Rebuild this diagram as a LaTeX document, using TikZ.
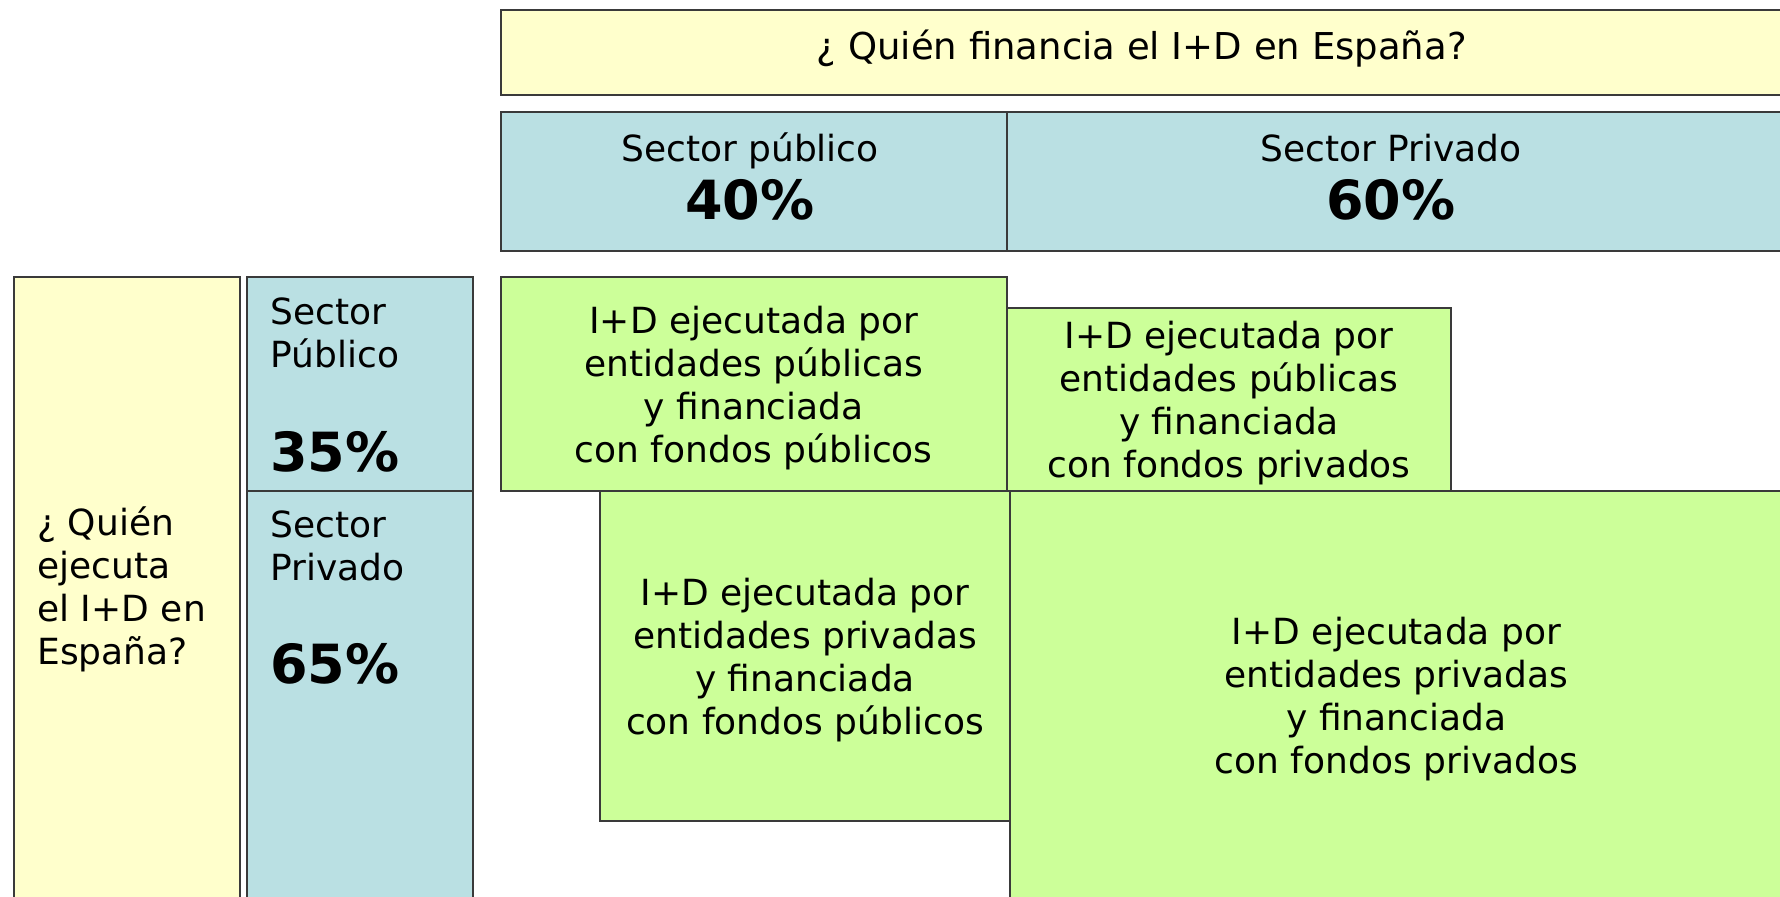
\documentclass[tikz,border=0pt]{standalone}
\usepackage{fontspec}
\setmainfont{DejaVu Sans}
\usepackage{tikz}
\usetikzlibrary{positioning}

\definecolor{ylw}{HTML}{FFFFCC}
\definecolor{blu}{HTML}{BAE0E3}
\definecolor{grn}{HTML}{CCFF99}
\definecolor{boxline}{HTML}{3A3A3A}
\newcommand{\boxtxt}{\fontsize{18}{21.5}\selectfont}
\newcommand{\pcttxt}{\fontsize{27}{30}\selectfont\bfseries}

\begin{document}
\begin{tikzpicture}
	% Styles
	[
	x=0.5pt, y=-0.5pt,
	box/.style={draw=boxline, line width=1pt, inner sep=0pt, anchor=north west, align=center, font=\boxtxt},
	ybox/.style={box, fill=ylw},
	bbox/.style={box, fill=blu},
	gbox/.style={box, fill=grn, text depth=0pt},
	lbl/.style={anchor=west, align=left, inner sep=0pt, font=\boxtxt},
	hlbl/.style={anchor=base, inner sep=0pt, font=\boxtxt},
	pct/.style={anchor=west, inner sep=0pt, font=\pcttxt},
	]

	\clip (0,0) rectangle (1780,896);
	\fill[white] (0,0) rectangle (1780,896);

	% Boxes
	\node at (499.5,9)	(askfin)	[ybox, minimum width=641.25pt, minimum height=42.5pt, text depth=7.8pt, font=\fontsize{18.5}{22}\selectfont] {¿ Quién financia el I+D en España?};
	\node at (499.5,111)	(hpub)	[bbox, minimum width=253.25pt, minimum height=69.5pt] {};
	\node at (1006,111)	(hpriv)	[bbox, minimum width=388pt, minimum height=69.5pt] {};

	\node at (12.5,276)	(askexec)	[ybox, minimum width=113pt, minimum height=311pt] {};
	\node at (246,276)	(colpub)	[bbox, minimum width=113pt, minimum height=107pt] {};
	\node at (246,490)	(colpriv)	[bbox, minimum width=113pt, minimum height=204pt] {};

	\node at (499.5,276)	(gpubpub)	[gbox, minimum width=253.25pt, minimum height=107pt] {I+D ejecutada por\\entidades públicas\\y financiada\\con fondos públicos};
	\node at (1006,306.5)	(gpubpriv)	[gbox, minimum width=222pt, minimum height=91.75pt] {I+D ejecutada por\\entidades públicas\\y financiada\\con fondos privados};
	\node at (599,490)	(gprivpub)	[gbox, minimum width=205pt, minimum height=165pt] {I+D ejecutada por\\entidades privadas\\y financiada\\con fondos públicos};
	\node at (1009,490)	(gprivpriv)	[gbox, minimum width=386.5pt, minimum height=204pt] {I+D ejecutada por\\entidades privadas\\y financiada\\con fondos privados};

	% Labels
	\node at (750,161)	(hpubtxt)	[hlbl] {Sector público};
	\node at (750,219)	(hpubpct)	[hlbl, font=\pcttxt] {40\%};
	\node at (1391,161)	(hprivtxt)	[hlbl] {Sector Privado};
	\node at (1391,219)	(hprivpct)	[hlbl, font=\pcttxt] {60\%};

	\node at (37,589)	(askexectxt)	[lbl] {¿ Quién\\ejecuta\\el I+D en\\España?};
	\node at (270,333)	(pubtxt)	[lbl] {Sector\\Público};
	\node at (270,452)	(pubpct)	[pct] {35\%};
	\node at (270,546)	(privtxt)	[lbl] {Sector\\Privado};
	\node at (270,664)	(privpct)	[pct] {65\%};

\end{tikzpicture}
\end{document}
